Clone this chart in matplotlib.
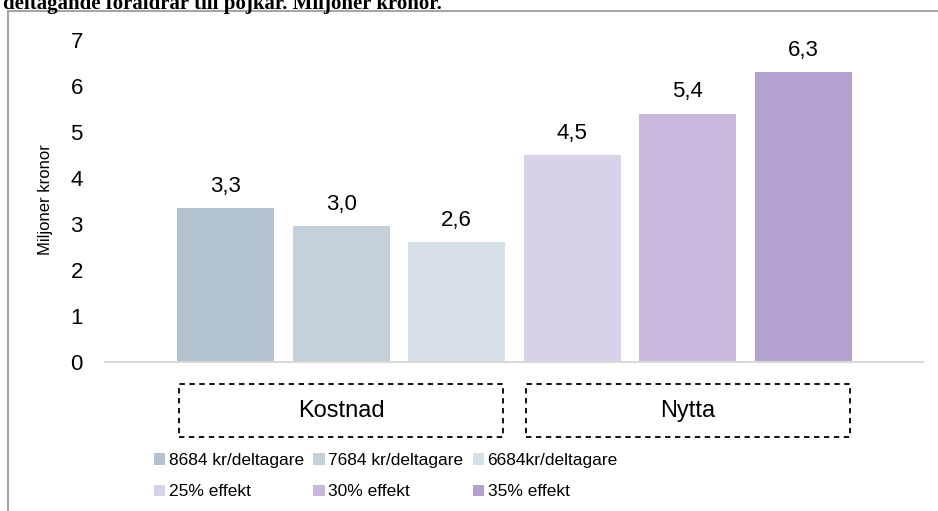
import matplotlib
matplotlib.use("Agg")
import matplotlib.pyplot as plt
import matplotlib.transforms as mtransforms
from matplotlib.patches import Rectangle
from matplotlib.lines import Line2D
import numpy as np

plt.rcParams['font.family'] = ['Liberation Sans', 'DejaVu Sans']

title = "deltagande föräldrar till pojkar. Miljoner kronor."
series = ["8684 kr/deltagare", "7684 kr/deltagare", "6684kr/deltagare",
          "25% effekt", "30% effekt", "35% effekt"]
values = [3.35, 2.95, 2.6, 4.5, 5.4, 6.3]
value_labels = ["3,3", "3,0", "2,6", "4,5", "5,4", "6,3"]
groups = ["Kostnad", "Nytta"]
group_members = [[0, 1, 2], [3, 4, 5]]
colors = ["#B3C2CE", "#C5D1DA", "#D8E0E7", "#D9D1E8", "#C8B8DB", "#B3A2D0"]

W, H = 938, 511
fig = plt.figure(figsize=(W / 100, H / 100), dpi=100)
ax = fig.add_axes([105 / W, 1 - 362 / H, 818 / W, 322 / H])

x = np.arange(len(values))
bars = []
for i in range(len(values)):
    b = ax.bar(x[i], values[i], width=0.84, color=colors[i], label=series[i], zorder=2)
    bars.append(b[0])
    ax.annotate(value_labels[i], (x[i], values[i]), xytext=(0, 8), textcoords="offset points",
                ha="center", va="bottom", fontsize=16)

ax.set_ylim(0, 7)
ax.set_xlim(-1.042, 6.034)
ax.set_yticks(range(0, 8))
ax.set_xticks([])
for s in ["top", "right", "left"]:
    ax.spines[s].set_visible(False)
ax.spines["bottom"].set_color("#D9D9D9")
ax.spines["bottom"].set_linewidth(1.5)
ax.tick_params(axis="y", length=0, pad=16, labelsize=16)
ax.set_ylabel("Miljoner kronor", fontsize=12)
ax.yaxis.set_label_coords(-0.0636, 0.503)

# dashed group boxes under the axis
trans = mtransforms.blended_transform_factory(ax.transData, ax.transAxes)
for name, members in zip(groups, group_members):
    cx = np.mean(x[members])
    ax.add_patch(Rectangle((cx - 1.4, -0.233), 2.8, 0.165, transform=trans, fill=False,
                           edgecolor="black", linestyle=(0, (3, 2.5)), linewidth=1.3,
                           clip_on=False))
    ax.text(cx, -0.152, name, transform=trans, ha="center", va="center", fontsize=17)

# legend, row-major order
order = [0, 3, 1, 4, 2, 5]
fig.legend([bars[i] for i in order], [series[i] for i in order], ncol=3,
           loc="upper left", bbox_to_anchor=(154 / W, 1 - 453 / H), frameon=False,
           fontsize=12.5, handlelength=0.65, handleheight=0.65, handletextpad=0.2,
           columnspacing=0.55, labelspacing=0.95, borderpad=0, borderaxespad=0)

# outer frame (left and top edges only visible)
fig.add_artist(Line2D([8 / W, 8 / W], [0, 1 - 11 / H], color="#A6A6A6", linewidth=1.5))
fig.add_artist(Line2D([8 / W, 1], [1 - 11 / H, 1 - 11 / H], color="#A6A6A6", linewidth=1.5))

fig.text(3 / W, 1 - 9 / H, title, fontsize=15, fontweight="bold",
         family=["Liberation Serif", "DejaVu Serif"], va="baseline", ha="left")

fig.savefig("out.png", dpi=100)
